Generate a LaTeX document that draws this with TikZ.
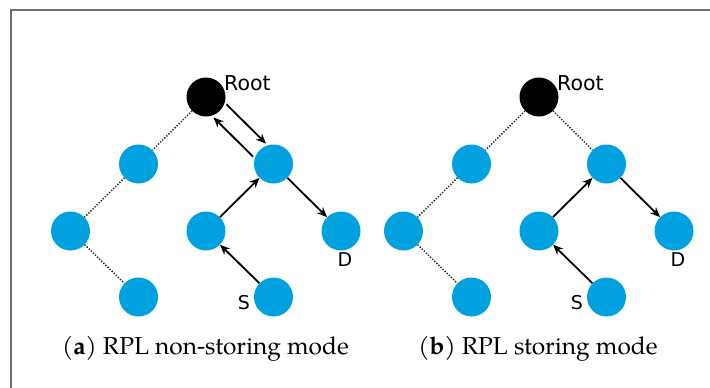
\documentclass[tikz,border=0pt]{standalone}
\usepackage{fontspec}
\setmainfont{TeX Gyre Pagella}
\newfontfamily\labelfont{DejaVu Sans}
\usetikzlibrary{arrows.meta}
\definecolor{nodeblue}{RGB}{0,161,222}
\definecolor{framegray}{RGB}{110,110,110}
\tikzset{
  blue node/.style={circle, fill=nodeblue, minimum size=39pt, inner sep=0pt},
  root node/.style={circle, fill=black, minimum size=39pt, inner sep=0pt},
  dotlink/.style={line width=1.5pt, black!85, dash pattern=on 1.3pt off 1.6pt},
  arrowlink/.style={line width=1.8pt, -{Stealth[length=10pt,width=8.5pt]}},
  lbl/.style={font=\labelfont\fontsize{19}{19}\selectfont, inner sep=0pt},
  rootlbl/.style={font=\labelfont\fontsize{20.5}{20.5}\selectfont, inner sep=0pt, anchor=base west},
  captiontext/.style={font=\fontsize{24.5}{24.5}\selectfont, inner sep=0pt, anchor=base}
}
\begin{document}
\begin{tikzpicture}[x=1pt,y=-1pt]
\useasboundingbox (0,0) rectangle (710,388);
\begin{scope}
\clip (0,0) rectangle (710,388);
\draw[framegray, line width=2pt] (10.7,9.7) rectangle (730,400);
\end{scope}

% panel (a)
\node[root node] (ra) at (206,97) {};
\node[blue node] (l1a) at (138.5,164) {};
\node[blue node] (r1a) at (273.5,164) {};
\node[blue node] (l2a) at (70.5,231) {};
\node[blue node] (m2a) at (206,231) {};
\node[blue node] (da) at (341,231) {};
\node[blue node] (l3a) at (138.5,297) {};
\node[blue node] (sa) at (273.5,297) {};

\node[rootlbl] (roota) at (224,90.5) {Root};
\node[lbl] (dla) at (345,260) {D};
\node[lbl] (sla) at (244,302.5) {S};

\draw[dotlink] (ra) -- (l1a);
\draw[dotlink] (l1a) -- (l2a);
\draw[dotlink] (l2a) -- (l3a);
\draw[arrowlink, transform canvas={shift={(6.5pt,6.5pt)}}] (ra) -- (r1a);
\draw[arrowlink, transform canvas={shift={(-6.5pt,-6.5pt)}}] (r1a) -- (ra);
\draw[arrowlink] (m2a) -- (r1a);
\draw[arrowlink] (sa) -- (m2a);
\draw[arrowlink] (r1a) -- (da);

\node[captiontext] (capa) at (205.5,354) {(\textbf{a}) RPL non-storing mode};

% panel (b)
\node[root node] (rb) at (539,97) {};
\node[blue node] (l1b) at (471.5,164) {};
\node[blue node] (r1b) at (606.5,164) {};
\node[blue node] (l2b) at (403.5,231) {};
\node[blue node] (m2b) at (539,231) {};
\node[blue node] (db) at (674,231) {};
\node[blue node] (l3b) at (471.5,297) {};
\node[blue node] (sb) at (606.5,297) {};

\node[rootlbl] (rootb) at (557,90.5) {Root};
\node[lbl] (dlb) at (678,260) {D};
\node[lbl] (slb) at (577,302.5) {S};

\draw[dotlink] (rb) -- (l1b);
\draw[dotlink] (l1b) -- (l2b);
\draw[dotlink] (l2b) -- (l3b);
\draw[dotlink] (rb) -- (r1b);
\draw[arrowlink] (m2b) -- (r1b);
\draw[arrowlink] (sb) -- (m2b);
\draw[arrowlink] (r1b) -- (db);

\node[captiontext] (capb) at (538,354) {(\textbf{b}) RPL storing mode};
\end{tikzpicture}
\end{document}
